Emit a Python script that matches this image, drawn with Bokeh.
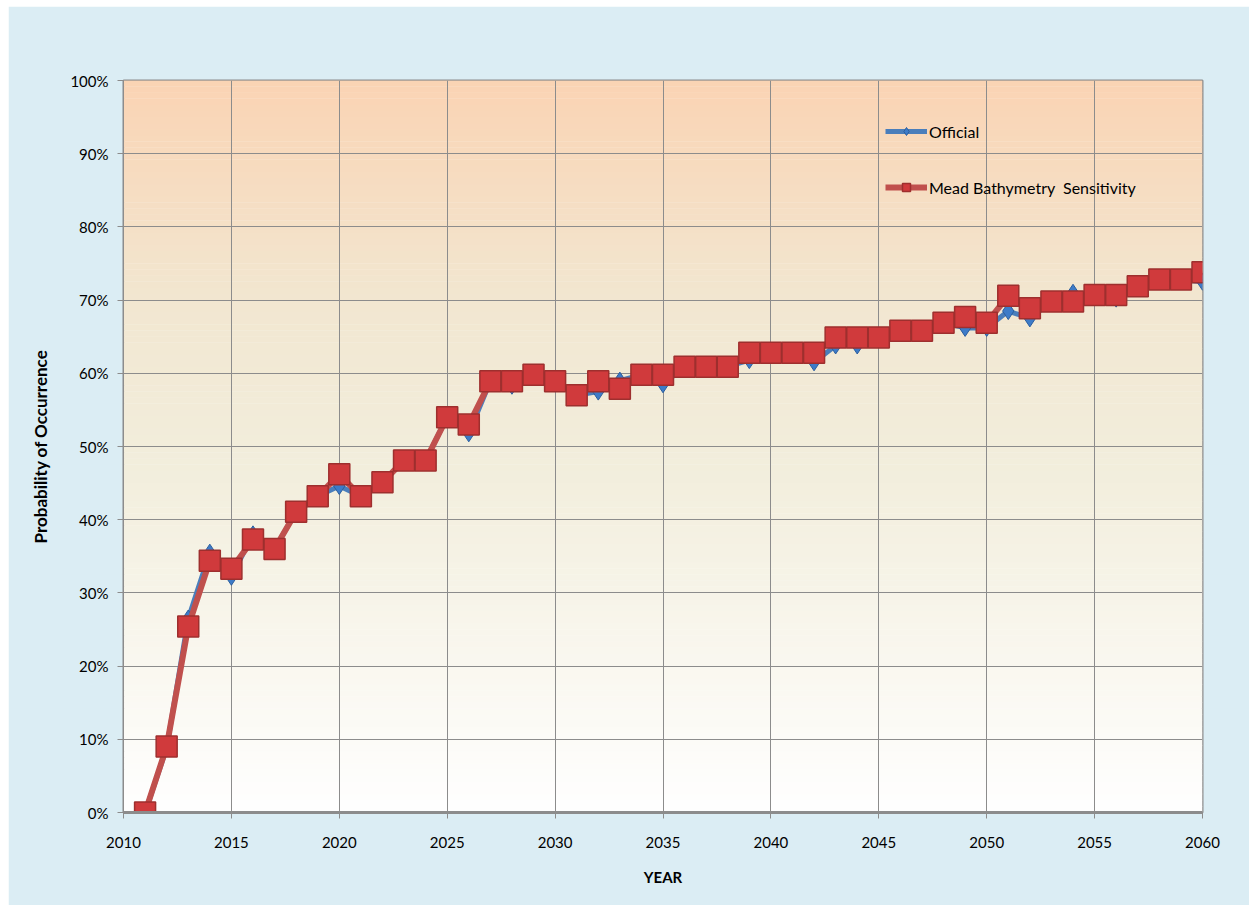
import numpy as np
from bokeh.plotting import figure
from bokeh.models import Range1d, NumeralTickFormatter, FixedTicker, Legend, LegendItem
from bokeh.embed import file_html
from bokeh.resources import INLINE

years = list(range(2011, 2061))
official = [0, 8.8, 26.5, 35.5, 32.2, 38.0, 36.0, 41.1, 43.2, 44.6,
            43.2, 45.1, 48.1, 48.1, 54.0, 51.8, 58.9, 58.3, 59.8, 58.6,
            57.0, 57.5, 59.0, 59.8, 58.5, 60.9, 60.9, 60.9, 61.8, 62.8,
            62.8, 61.5, 63.8, 63.8, 64.9, 65.8, 65.8, 66.9, 66.2, 66.2,
            68.5, 67.5, 69.8, 71.0, 70.5, 70.2, 71.9, 72.8, 72.8, 72.5]
mead = [0, 9.0, 25.4, 34.4, 33.3, 37.3, 36.0, 41.1, 43.2, 46.2,
        43.2, 45.1, 48.1, 48.1, 54.0, 53.0, 58.9, 58.9, 59.8, 58.9,
        57.0, 58.9, 57.9, 59.8, 59.8, 60.9, 60.9, 60.9, 62.8, 62.8,
        62.8, 62.8, 64.9, 64.9, 64.9, 65.8, 65.8, 66.9, 67.7, 66.9,
        70.6, 68.9, 69.8, 69.8, 70.7, 70.7, 71.9, 72.8, 72.8, 73.8]
official_f = [v / 100 for v in official]
mead_f = [v / 100 for v in mead]
x_ticks = list(range(2010, 2061, 5))
y_ticks = [i / 10 for i in range(11)]

p = figure(width=1241, height=899, output_backend="svg", toolbar_location=None,
           x_range=Range1d(2010, 2060), y_range=Range1d(0, 1),
           min_border_left=115, min_border_right=47, min_border_top=74, min_border_bottom=93)
p.margin = (6, 0, 0, 8)
p.border_fill_color = "#DBEDF4"
p.background_fill_color = "#FFFFFF"
p.outline_line_color = "#8C8C8C"
p.outline_line_width = 2

# vertical gradient background of the plot area
stops_y = [0.0, 0.2, 0.45, 0.7, 1.0]
stops_c = [(255, 255, 255), (250, 248, 240), (243, 239, 222), (242, 231, 209), (251, 212, 180)]
n = 120
edges = np.linspace(0, 1, n + 1)
mids = (edges[:-1] + edges[1:]) / 2
cols = []
for m in mids:
    r = np.interp(m, stops_y, [c[0] for c in stops_c])
    g = np.interp(m, stops_y, [c[1] for c in stops_c])
    b = np.interp(m, stops_y, [c[2] for c in stops_c])
    cols.append("#%02x%02x%02x" % (int(r), int(g), int(b)))
p.quad(left=2010, right=2060, bottom=edges[:-1], top=edges[1:] + 0.0005,
       fill_color=cols, line_color=None, level="underlay")

p.grid.grid_line_color = "#8C8C8C"
p.grid.grid_line_width = 1
p.grid.level = "underlay"
p.xgrid.ticker = FixedTicker(ticks=x_ticks)
p.ygrid.ticker = FixedTicker(ticks=y_ticks)

font = "Lato"
p.xaxis.ticker = FixedTicker(ticks=x_ticks)
p.yaxis.ticker = FixedTicker(ticks=y_ticks)
p.yaxis.formatter = NumeralTickFormatter(format="0%")
for ax in (p.xaxis, p.yaxis):
    ax.major_label_text_font = font
    ax.major_label_text_font_size = "15px"
    ax.major_label_text_color = "#000000"
    ax.axis_label_text_font = font
    ax.axis_label_text_font_style = "bold"
    ax.axis_label_text_color = "#000000"
    ax.minor_tick_line_color = None
    ax.major_tick_line_color = "#8C8C8C"
    ax.major_tick_in = 0
    ax.major_tick_out = 6
    ax.axis_line_color = "#8C8C8C"
p.xaxis.axis_label_text_font_size = "15px"
p.yaxis.axis_label_text_font_size = "17px"
p.xaxis.axis_line_width = 3
p.yaxis.axis_line_width = 1
p.xaxis.axis_label = "YEAR"
p.yaxis.axis_label = "Probability of Occurrence"
p.xaxis.major_label_standoff = 18
p.xaxis.axis_label_standoff = 17
p.yaxis.major_label_standoff = 9
p.yaxis.axis_label_standoff = 16

blue = "#4A7EBB"
red = "#C0504D"
l1 = p.line(years, official_f, line_color=blue, line_width=5)
m1 = p.scatter(years, official_f, marker="diamond", size=17, fill_color="#3D7BC8",
               line_color="#2C5E9E", line_width=1)
l2 = p.line(years, mead_f, line_color=red, line_width=6)
m2 = p.scatter(years, mead_f, marker="square", size=21, fill_color="#D03A3C",
               line_color="#9E2F2E", line_width=1.5)

legend = Legend(items=[LegendItem(label="Official", renderers=[l1, m1]),
                       LegendItem(label="Mead Bathymetry  Sensitivity", renderers=[l2, m2])],
                location=(762, 615))
legend.background_fill_alpha = 0
legend.border_line_color = None
legend.padding = 0
legend.margin = 0
legend.spacing = 36
legend.glyph_width = 42
legend.glyph_height = 20
legend.label_height = 20
legend.label_standoff = 2
legend.label_text_font = font
legend.label_text_font_size = "16px"
legend.label_text_color = "#000000"
p.add_layout(legend, "center")

open("out.html", "w").write(file_html(p, INLINE))
